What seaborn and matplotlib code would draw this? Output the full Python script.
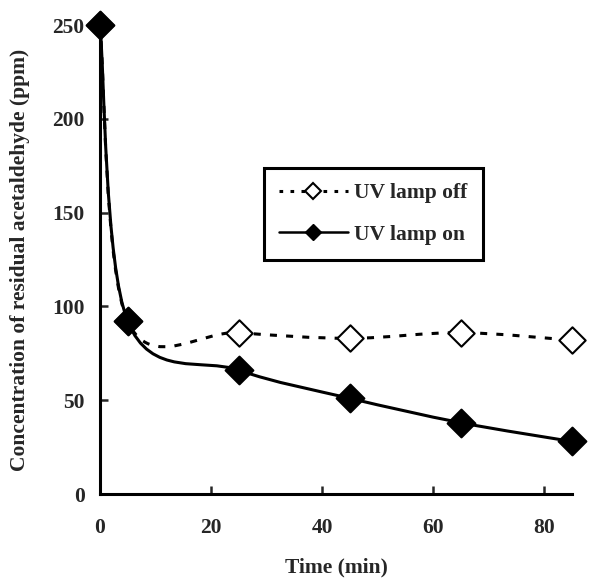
import numpy as np
import pandas as pd
import seaborn as sns
import matplotlib
matplotlib.use("Agg")
import matplotlib.pyplot as plt
from matplotlib.path import Path
from matplotlib.patches import PathPatch
from matplotlib.lines import Line2D

time_min = [0, 5, 25, 45, 65, 85]
uv_off = [250, 92, 86, 83, 86, 82]
uv_on = [250, 92, 66, 51, 38, 28]
x_ticks = [0, 20, 40, 60, 80]
y_ticks = [0, 50, 100, 150, 200, 250]

sns.set_style("ticks")
plt.rcParams['font.family'] = ['Liberation Serif', 'DejaVu Serif']
plt.rcParams['font.weight'] = 'bold'

fig = plt.figure(figsize=(6.01, 5.79), dpi=100)
ax = fig.add_axes([0.1664, 0.1468, 0.7853, 0.81])


def smooth_path(xs, ys):
    pts = np.column_stack([xs, ys]).astype(float)
    n = len(pts)
    verts = [pts[0]]
    codes = [Path.MOVETO]
    for i in range(n - 1):
        p0 = pts[i - 1] if i > 0 else pts[i]
        p1 = pts[i]
        p2 = pts[i + 1]
        p3 = pts[i + 2] if i + 2 < n else pts[i + 1]
        c1 = p1 + (p2 - p0) / 6.0
        c2 = p2 - (p3 - p1) / 6.0
        verts += [c1, c2, p2]
        codes += [Path.CURVE4] * 3
    return Path(verts, codes)


lw = 2.2
off_patch = PathPatch(smooth_path(time_min, uv_off), facecolor='none', edgecolor='black',
                      linewidth=lw, linestyle=(0, (2.3, 3.0)), zorder=2, clip_on=False)
on_patch = PathPatch(smooth_path(time_min, uv_on), facecolor='none', edgecolor='black',
                     linewidth=lw, linestyle='-', zorder=2, clip_on=False)
ax.add_patch(off_patch)
ax.add_patch(on_patch)

df = pd.DataFrame({'t': time_min * 2,
                   'c': uv_off + uv_on,
                   's': ['UV lamp off'] * len(time_min) + ['UV lamp on'] * len(time_min)})
sns.scatterplot(data=df[df.s == 'UV lamp off'], x='t', y='c', marker='D', s=180,
                facecolor='white', edgecolor='black', linewidth=1.5, ax=ax, zorder=3,
                legend=False)
sns.scatterplot(data=df[df.s == 'UV lamp on'], x='t', y='c', marker='D', s=200,
                color='black', edgecolor='black', linewidth=1.5, ax=ax, zorder=4, legend=False)
for coll in ax.collections:
    coll.set_clip_on(False)

ax.set_xlim(0, 85)
ax.set_ylim(0, 250)
ax.set_xticks(x_ticks)
ax.set_yticks(y_ticks)
ax.tick_params(direction='in', length=6, width=1.8, labelsize=15.5)
ax.tick_params(axis='x', pad=17)
ax.tick_params(axis='y', pad=11)
for lab in ax.get_xticklabels() + ax.get_yticklabels():
    lab.set_fontweight('bold')
for sp in ['top', 'right']:
    ax.spines[sp].set_visible(False)
for sp in ['left', 'bottom']:
    ax.spines[sp].set_linewidth(2.2)
    ax.spines[sp].set_color('black')

ax.set_xlabel('Time (min)', fontsize=15.5, fontweight='bold', labelpad=14)
ax.set_ylabel('Concentration of residual acetaldehyde (ppm)', fontsize=15.5, fontweight='bold',
              labelpad=16)

h_off = Line2D([0], [0], color='black', lw=lw, linestyle=(0, (1.2, 2.4)), marker='D', ms=8.5,
               mfc='white', mec='black', mew=1.5)
h_on = Line2D([0], [0], color='black', lw=1.8, linestyle='-', marker='D', ms=8.5,
              mfc='black', mec='black')
leg = ax.legend([h_off, h_on], ['UV lamp off', 'UV lamp on'], loc='upper left',
                bbox_to_anchor=(0.347, 0.695), borderaxespad=0, frameon=True, fancybox=False,
                prop={'size': 15.5, 'weight': 'bold'}, handlelength=3.2, handletextpad=0.3,
                labelspacing=1.0, borderpad=0.7, edgecolor='black')
leg.get_frame().set_linewidth(2.2)
leg.get_frame().set_alpha(1)

fig.savefig('out.png', dpi=100)
